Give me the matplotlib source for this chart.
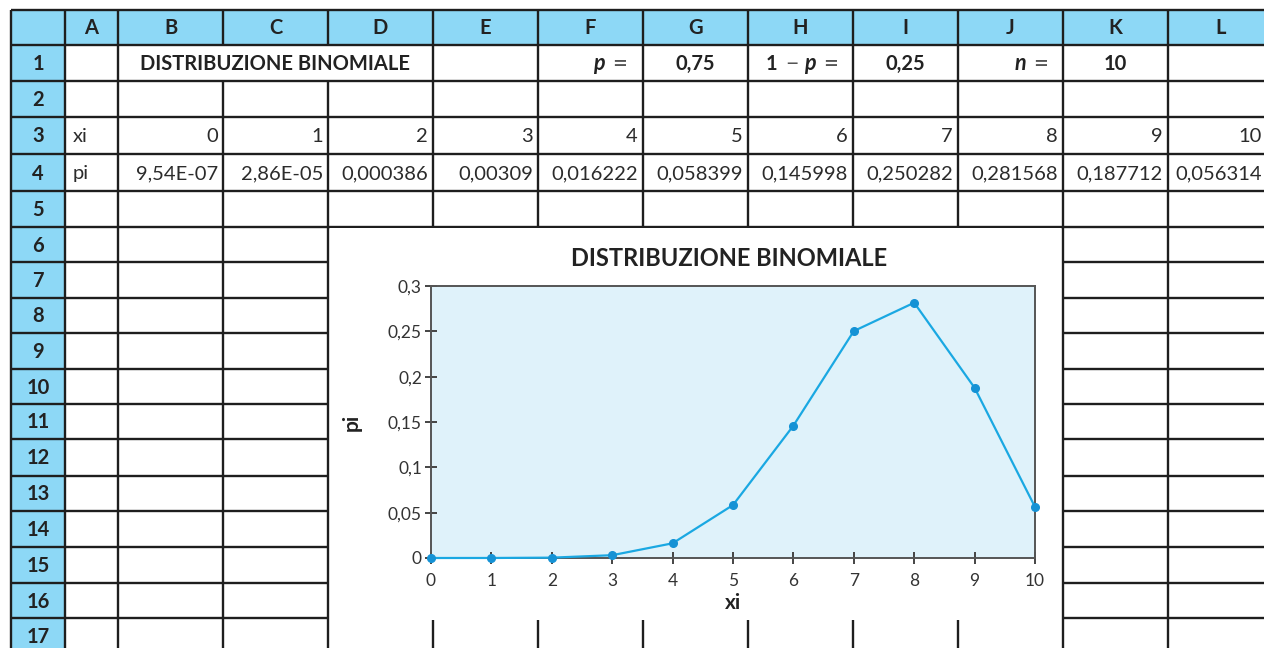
import matplotlib
matplotlib.use("Agg")
import matplotlib.pyplot as plt
from matplotlib.patches import Rectangle
from matplotlib.ticker import FuncFormatter

plt.rcParams['font.family'] = ['Lato', 'DejaVu Sans']

# ---------------- data ----------------
col_letters = ["A", "B", "C", "D", "E", "F", "G", "H", "I", "J", "K", "L"]
row_numbers = list(range(1, 18))
xi = [0, 1, 2, 3, 4, 5, 6, 7, 8, 9, 10]
pi = [9.54e-07, 2.86e-05, 0.000386, 0.00309, 0.016222, 0.058399,
      0.145998, 0.250282, 0.281568, 0.187712, 0.056314]
p_value = 0.75
q_value = 0.25
n_value = 10
title = "DISTRIBUZIONE BINOMIALE"
y_ticks = [0, 0.05, 0.1, 0.15, 0.2, 0.25, 0.3]

# ---------------- layout (pixels) ----------------
W, H = 1264, 648
col_edges = [11, 65, 118, 223, 328, 433, 538, 643, 748, 853, 958, 1063, 1168, 1273]
row_edges = [10, 45, 81, 117, 154, 191, 227, 262, 298, 333, 369, 404, 439, 476,
             511, 547, 583, 618, 654]
HEAD = "#8dd8f6"
LINE = "#1e1e1e"
TXT = "#2b2b2b"
DARK = "#222222"
OPS = "#555555"
lw = 1.7

fig = plt.figure(figsize=(W / 100, H / 100), dpi=100)
bg = fig.add_axes([0, 0, 1, 1])
bg.set_xlim(0, W)
bg.set_ylim(H, 0)
bg.axis("off")

# header fills
bg.add_patch(Rectangle((col_edges[0], row_edges[0]), W - col_edges[0], row_edges[1] - row_edges[0],
                       facecolor=HEAD, edgecolor="none", zorder=0))
bg.add_patch(Rectangle((col_edges[0], row_edges[1]), col_edges[1] - col_edges[0], H - row_edges[1],
                       facecolor=HEAD, edgecolor="none", zorder=0))

# chart object region (columns D..J, rows 6..16)
cx0, cx1 = col_edges[4], col_edges[11]
cy0, cy1 = row_edges[6], row_edges[17]


def cut_pieces(a0, b0, cuts):
    pieces = [(a0, b0)]
    for c0, c1 in cuts:
        nxt = []
        for a, b in pieces:
            if c1 <= a or c0 >= b:
                nxt.append((a, b))
            else:
                if a < c0:
                    nxt.append((a, c0))
                if c1 < b:
                    nxt.append((c1, b))
        pieces = nxt
    return pieces


# vertical lines
for x in col_edges:
    cuts = []
    if x in (col_edges[3], col_edges[4]):  # merged cell B1:D1
        cuts.append((row_edges[1] + 1, row_edges[2] - 1))
    if cx0 < x < cx1:
        cuts.append((cy0, cy1 + 1))
    for a, b in cut_pieces(row_edges[0], H, cuts):
        bg.plot([x, x], [a, b], color=LINE, lw=lw, solid_capstyle="butt", zorder=2)

# horizontal lines
for y in row_edges:
    if y > H:
        continue
    if cy0 < y <= cy1:
        bg.plot([col_edges[0], cx0], [y, y], color=LINE, lw=lw, solid_capstyle="butt", zorder=2)
        bg.plot([cx1, W], [y, y], color=LINE, lw=lw, solid_capstyle="butt", zorder=2)
    else:
        bg.plot([col_edges[0], W], [y, y], color=LINE, lw=lw, solid_capstyle="butt", zorder=2)

FS = 14.5
# column letters
for k, letter in enumerate(col_letters):
    xc = (col_edges[k + 1] + col_edges[k + 2]) / 2
    bg.text(xc, (row_edges[0] + row_edges[1]) / 2 + 1, letter, ha="center", va="center",
            fontsize=FS, fontweight="bold", color=DARK, zorder=3)


def rowc(r):
    return (row_edges[r] + row_edges[r + 1]) / 2 + 1


# row numbers
for r in row_numbers:
    bg.text((col_edges[0] + col_edges[1]) / 2, rowc(r), str(r), ha="center", va="center",
            fontsize=FS, fontweight="bold", color=DARK, zorder=3)


def fmt_num(v):
    return str(v).replace(".", ",")


def fmt_cell(v):
    if v < 1e-4:
        return ("%.2E" % v).replace(".", ",")
    return ("%.6f" % v).rstrip("0").replace(".", ",")


def put(x, s, ha="left", **kw):
    bg.text(x, rowc(1), s, ha=ha, va="center", zorder=3, **kw)


# row 1
put((col_edges[2] + col_edges[5]) / 2 - 1, title, ha="center", fontsize=FS, fontweight="bold", color=DARK)
put(593, "p", fontsize=FS + 1, fontweight="bold", style="italic", color=DARK)
put(612, "=", fontsize=FS + 4, color=OPS)
put((col_edges[7] + col_edges[8]) / 2, fmt_num(p_value), ha="center", fontsize=FS, fontweight="bold", color=DARK)
put(766, "1", fontsize=FS, fontweight="bold", color=DARK)
put(785, "\u2212", fontsize=FS + 2, color=OPS)
put(804, "p", fontsize=FS + 1, fontweight="bold", style="italic", color=DARK)
put(823, "=", fontsize=FS + 4, color=OPS)
put((col_edges[9] + col_edges[10]) / 2, fmt_num(q_value), ha="center", fontsize=FS, fontweight="bold", color=DARK)
put(1015, "n", fontsize=FS + 1, fontweight="bold", style="italic", color=DARK)
put(1033, "=", fontsize=FS + 4, color=OPS)
put((col_edges[11] + col_edges[12]) / 2, str(n_value), ha="center", fontsize=FS, fontweight="bold", color=DARK)

# rows 3 and 4
bg.text(col_edges[1] + 8, rowc(3), "xi", ha="left", va="center", fontsize=FS, color=TXT, zorder=3)
bg.text(col_edges[1] + 8, rowc(4), "pi", ha="left", va="center", fontsize=FS, color=TXT, zorder=3)
for k, (x, v) in enumerate(zip(xi, pi)):
    xr = min(col_edges[k + 3] - 5, W - 2)
    bg.text(xr, rowc(3), str(x), ha="right", va="center", fontsize=FS, color=TXT, zorder=3)
    bg.text(xr, rowc(4), fmt_cell(v), ha="right", va="center", fontsize=FS, color=TXT, zorder=3)

# chart object background
bg.add_patch(Rectangle((cx0 + 2, cy0 + 1), cx1 - cx0 - 4, cy1 - cy0 + 1,
                       facecolor="white", edgecolor="none", zorder=4))
bg.text(729, 259, title, ha="center", va="center", fontsize=17,
        fontweight="bold", color=DARK, zorder=5)

# inner chart axes
px0, px1, py0, py1 = 431, 1035, 286, 558
ax = fig.add_axes([px0 / W, 1 - py1 / H, (px1 - px0) / W, (py1 - py0) / H], zorder=6)
ax.set_facecolor("#dff2fa")
ax.plot(xi, pi, color="#1aa8e2", lw=1.6, marker="o", ms=5.5, mfc="#1592d5",
        mec="#1592d5", clip_on=False, zorder=5)
ax.set_xlim(0, 10)
ax.set_ylim(0, 0.3)
ax.set_xticks(xi)
ax.set_yticks(y_ticks)
ax.yaxis.set_major_formatter(FuncFormatter(lambda v, _: ("%g" % v).replace(".", ",")))
for s in ax.spines.values():
    s.set_color("#555555")
    s.set_linewidth(1.4)
ax.tick_params(direction="inout", length=9, width=1.4, color="#444444",
               labelsize=12.5, labelcolor="#333333")
ax.tick_params(axis="x", pad=6)
ax.tick_params(axis="y", pad=2)
ax.set_xlabel("xi", fontsize=15, fontweight="bold", color=DARK, labelpad=3)
ax.set_ylabel("pi", fontsize=15, fontweight="bold", color=DARK, labelpad=19)

fig.savefig("out.png", dpi=100)
